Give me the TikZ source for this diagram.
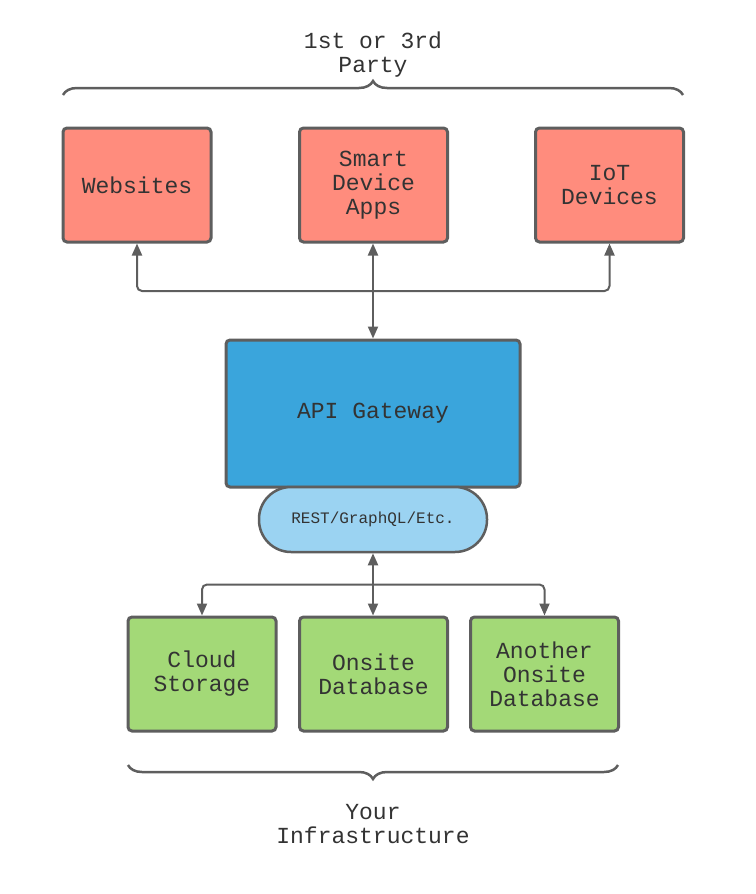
\documentclass[tikz,border=0pt]{standalone}
\usepackage{fontspec}
\setmonofont{Liberation Mono}
\usetikzlibrary{arrows.meta,decorations.pathreplacing,calc}

\definecolor{edgegray}{HTML}{5E5E5E}
\definecolor{txtgray}{HTML}{333333}
\definecolor{partyred}{HTML}{FF8C7D}
\definecolor{gatewayblue}{HTML}{3AA5DC}
\definecolor{protoblue}{HTML}{9BD3F2}
\definecolor{infragreen}{HTML}{A3D977}

\begin{document}
\begin{tikzpicture}[x=1pt,y=-1pt,
  every node/.style={font=\ttfamily\fontsize{23}{24}\selectfont, text=txtgray, align=center},
  box/.style={draw=edgegray, line width=3pt, rounded corners=4pt,
    minimum width=148pt, minimum height=114pt, inner sep=0pt},
  party/.style={box, fill=partyred},
  infra/.style={box, fill=infragreen},
  link/.style={draw=edgegray, line width=2pt, rounded corners=5pt,
    >={Triangle[length=12pt,width=10pt]}},
  brace/.style={draw=edgegray, line width=2.5pt,
    decorate, decoration={brace, amplitude=14pt}}
  ]
  \useasboundingbox (0,0) rectangle (755,894);

  % outside parties
  \node[party] (web) at (137,185) {Websites};
  \node[party] (sda) at (373.5,185) {Smart\\Device\\Apps};
  \node[party] (iot) at (609.5,185) {IoT\\Devices};

  % gateway
  \node[box, fill=gatewayblue, minimum width=294pt, minimum height=147pt]
    (gw) at (373,413.5) {API Gateway};
  \node[draw=edgegray, line width=2.5pt, fill=protoblue, rounded corners=32pt,
    minimum width=228pt, minimum height=65pt, inner sep=0pt,
    font=\ttfamily\fontsize{16}{18}\selectfont] (proto) at (373,519.5) {REST/GraphQL/Etc.};

  % your side
  \node[infra] (cloud) at (202,674) {Cloud\\Storage};
  \node[infra] (onsite) at (373.5,674) {Onsite\\Database};
  \node[infra] (other) at (544.5,674) {Another\\Onsite\\Database};

  % connectors
  \coordinate (tj) at (373,291);
  \coordinate (bj) at (373,584.5);
  \draw[link, <->] (gw.north) -- (gw.north |- sda.south);
  \draw[link, ->] (tj) -| (web.south);
  \draw[link, ->] (tj) -| (iot.south);
  \draw[link, <->] (proto.south) -- (proto.south |- onsite.north);
  \draw[link, ->] (bj) -| (cloud.north);
  \draw[link, ->] (bj) -| (other.north);

  % braces and captions
  \draw[brace] (63,95) -- (683,95);
  \node (partylbl) at (373,55) {1st or 3rd\\Party};
  \draw[brace] (618,765) -- (128,765);
  \node (infralbl) at (373,824) {Your\\Infrastructure};
\end{tikzpicture}
\end{document}
